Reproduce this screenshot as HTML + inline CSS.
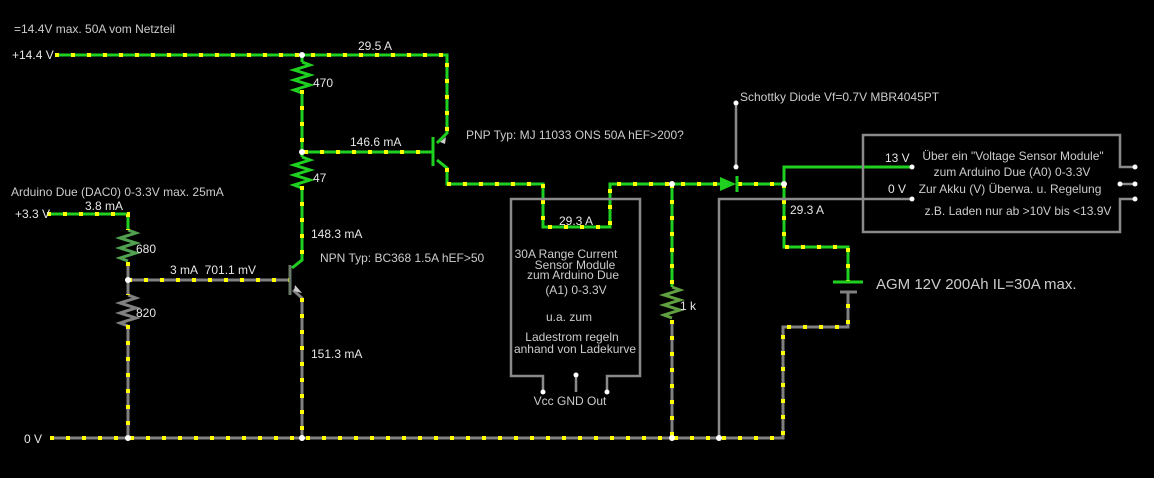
<!DOCTYPE html>
<html><head><meta charset="utf-8"><style>
html,body{margin:0;padding:0;background:#000;}
svg{display:block}
text{font-family:"Liberation Sans",sans-serif;font-size:12px;fill:#e6e6e6}
.g{stroke:#20d020;stroke-width:3;fill:none}
.r{stroke:#808080;stroke-width:3;fill:none}
.y{stroke:#ffff00;stroke-width:4;stroke-dasharray:4 12;fill:none}
.o{stroke:#8a8a8a;stroke-width:2.5;fill:none}
</style></head><body>
<svg width="1154" height="478" viewBox="0 0 1154 478" xmlns="http://www.w3.org/2000/svg">
<!-- green wires -->
<g class="g">
<path d="M55 55H447V133L437 143"/>
<path d="M302 55V62M302 90V152H433"/>
<path d="M302 152V157M302 186V260L292 268"/>
<path d="M437 160L447 168V184H543V227H610V184H720"/>
<path d="M738 184H784V167H912"/>
<path d="M784 184V247H848V282"/>
<path d="M672 184V287"/>
<path d="M47 214H128V230"/>
</g>
<!-- resistors green -->
<g class="g">
<path d="M302 62l8 3-16 5 16 5-16 5 16 5-16 5 8 3"/>
<path d="M302 157l8 3-16 5 16 5-16 5 16 5-16 5 8 3"/>
<path d="M128 230l8 3-16 5 16 5-16 5 16 5-16 5 8 3" style="stroke:#50a050"/>
<path d="M672 287l8 3-16 5 16 5-16 5 16 5-16 5 8 3" style="stroke:#60a040"/>
</g>
<!-- gray wires -->
<g class="r">
<path d="M128 262V295M128 325V438"/>
<path d="M128 280H290"/>
<path d="M293 290L302 298V438"/>
<path d="M50 438H783V327H848V292"/>
<path d="M672 320V438"/>
<path d="M128 295l8 3-16 5 16 5-16 5 16 5-16 5 8 3"/>
</g>
<!-- yellow dots -->
<g class="y">
<path d="M55 55H447V133"/>
<path d="M302 90V152H433"/>
<path d="M302 186V260"/>
<path d="M447 168V184H543V227H610V184H720"/>
<path d="M738 184H784"/>
<path d="M784 184V247H848V282"/>
<path d="M672 184V287M672 320V438"/>
<path d="M47 214H128V230M128 262V295M128 325V438"/>
<path d="M128 280H290"/>
<path d="M302 298V438"/>
<path d="M50 438H783V327H848V292"/>
</g>
<!-- transistors -->
<path d="M433 137V166" stroke="#20d020" stroke-width="3"/>
<path d="M440 142l6-5-1 7z" fill="#ccc"/>
<path d="M290 265V295" stroke="#6a7a6a" stroke-width="3"/>
<path d="M295 285l7 8-8-2z" fill="#ccc"/>
<!-- diode -->
<path d="M720 177V191L736 184Z" fill="#20d020"/>
<path d="M737 176V192" stroke="#20d020" stroke-width="3"/>
<!-- battery -->
<path d="M833 282H863" stroke="#20d020" stroke-width="3"/>
<path d="M840 292H857" stroke="#808080" stroke-width="3"/>
<!-- outlines -->
<g class="o">
<path d="M736 103V167"/>
<path d="M719 438V199H912"/>
<path d="M543 392V376H511V199H640V376H607V392"/>
<path d="M576 375V392"/>
<path d="M1135 167H1120V135H863V232H1120V199H1135"/>
<path d="M1120 184H1135"/>
</g>
<!-- nodes -->
<g fill="#fff">
<circle cx="302" cy="55" r="3"/><circle cx="302" cy="152" r="3"/><circle cx="128" cy="280" r="3"/>
<circle cx="128" cy="438" r="3"/><circle cx="302" cy="438" r="3"/><circle cx="672" cy="184" r="3"/>
<circle cx="784" cy="184" r="3"/><circle cx="672" cy="438" r="3"/><circle cx="719" cy="438" r="3"/>
<circle cx="736" cy="103" r="2.5"/><circle cx="736" cy="167" r="2.5"/>
<circle cx="912" cy="167" r="2.5"/><circle cx="912" cy="199" r="2.5"/>
<circle cx="1135" cy="167" r="2.5"/><circle cx="1135" cy="184" r="2.5"/><circle cx="1120" cy="184" r="2.5"/><circle cx="1135" cy="199" r="2.5"/>
<circle cx="543" cy="392" r="2.5"/><circle cx="576" cy="375" r="2.5"/><circle cx="607" cy="392" r="2.5"/>
</g>
<!-- labels -->
<text x="14" y="33" style="fill:#ccc">=14.4V max. 50A vom Netzteil</text>
<text x="12" y="59">+14.4 V</text>
<text x="358" y="50">29.5 A</text>
<text x="313" y="87">470</text>
<text x="350" y="146">146.6 mA</text>
<text x="313" y="182">47</text>
<text x="466" y="139" style="fill:#ccc">PNP Typ: MJ 11033 ONS 50A hEF&gt;200?</text>
<text x="11" y="196" style="fill:#ccc">Arduino Due (DAC0) 0-3.3V max. 25mA</text>
<text x="85" y="210">3.8 mA</text>
<text x="15" y="218">+3.3 V</text>
<text x="136" y="253">680</text>
<text x="311" y="238">148.3 mA</text>
<text x="320" y="262" style="fill:#ccc">NPN Typ: BC368 1.5A hEF&gt;50</text>
<text x="170" y="274">3 mA&#160;&#160;701.1 mV</text>
<text x="136" y="317">820</text>
<text x="311" y="358">151.3 mA</text>
<text x="24" y="443">0 V</text>
<text x="559" y="225">29.3 A</text>
<text x="740" y="101" style="fill:#ccc">Schottky Diode Vf=0.7V MBR4045PT</text>
<text x="885" y="162">13 V</text>
<text x="888" y="193">0 V</text>
<g text-anchor="middle" style="fill:#ccc">
<text x="1013" y="160" style="fill:#ccc">Über ein "Voltage Sensor Module"</text>
<text x="1012" y="176" style="fill:#ccc">zum Arduino Due (A0) 0-3.3V</text>
<text x="1010" y="193" style="fill:#ccc">Zur Akku (V) Überwa. u. Regelung</text>
<text x="1018" y="215" style="fill:#ccc">z.B. Laden nur ab &gt;10V bis &lt;13.9V</text>
<text x="566" y="258" style="fill:#ccc">30A Range Current</text>
<text x="575" y="269" style="fill:#ccc">Sensor Module</text>
<text x="573" y="279" style="fill:#ccc">zum Arduino Due</text>
<text x="576" y="294" style="fill:#ccc">(A1) 0-3.3V</text>
<text x="569" y="321" style="fill:#ccc">u.a. zum</text>
<text x="572" y="341" style="fill:#ccc">Ladestrom regeln</text>
<text x="575" y="353" style="fill:#ccc">anhand von Ladekurve</text>
<text x="570" y="405" style="fill:#ccc">Vcc GND Out</text>
</g>
<text x="790" y="214">29.3 A</text>
<text x="680" y="310">1 k</text>
<text x="876" y="289" style="font-size:15px;fill:#ccc">AGM 12V 200Ah IL=30A max.</text>
</svg>
</body></html>
